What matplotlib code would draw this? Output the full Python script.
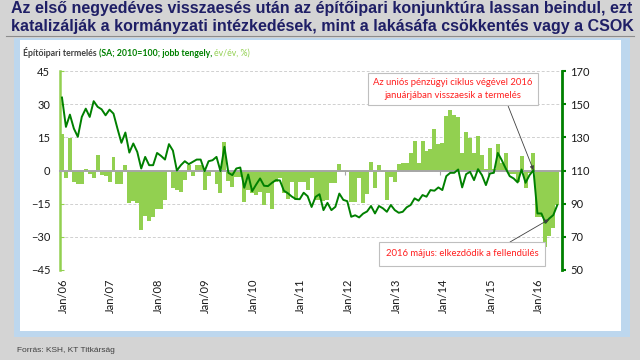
import numpy as np
import pandas as pd
import matplotlib
matplotlib.use("Agg")
import matplotlib.pyplot as plt
import matplotlib.patches as mpatches
from matplotlib.lines import Line2D
from matplotlib.text import Annotation

# ── Data ──────────────────────────────────────────────────────────────────────
months = pd.date_range("2006-01", periods=126, freq="MS")

# év/év, % (left axis, bars)
yoy = [
    16.3, -3.2, 14.9, -5.4, -5.9, -6.3, 0.5, -1.8, -3.6, 6.9, -2.1, -2.7,
    -5.1, 5.9, -6.2, -6.2, 2.7, -14.9, -13.9, -14.6, -26.7, -20.5, -22.9, -20.9,
    -17.5, -17.5, -13.4, -0.4, -8.1, -8.9, -9.6, -4.4, 2.4, -2.6, 2.7, 2.7,
    -9.0, -2.6, -0.3, -6.2, -10.1, 12.8, -4.8, -7.4, -3.0, -3.0, -14.2, -8.9,
    -10.4, -11.1, -9.6, -15.4, -10.4, -17.5, -5.1, -3.3, -10.4, -12.7, -5.1, -13.4,
    -5.1, -5.1, -8.9, -3.5, -13.5, -13.5, -14.0, -13.4, -5.5, -5.5, 3.0, -0.8,
    -0.8, -14.2, -14.2, -3.3, -14.5, -10.8, 3.8, -7.8, 2.3, -0.9, -13.4, -2.9,
    -5.1, 2.9, 3.2, 3.2, 8.1, 13.4, 3.2, 13.4, 8.7, 9.5, 18.7, 12.2,
    12.5, 24.5, 27.5, 25.0, 24.0, 7.7, 17.2, 14.8, 7.7, 15.7, 6.9, 0.6,
    10.4, 0.5, 11.9, 3.2, 7.7, -1.7, -1.7, -5.1, 6.5, -8.1, -1.0, 8.1,
    -21.2, -21.2, -34.5, -29.5, -26.2, -15.7,
]

# SA, 2010=100 (right axis, line)
index_sa = [
    154.0, 136.3, 143.7, 135.3, 130.3, 142.3, 147.3, 142.3, 151.8, 148.4, 146.9, 143.3,
    146.7, 144.3, 135.3, 126.7, 132.9, 120.8, 126.3, 121.2, 111.2, 118.2, 113.2, 113.2,
    120.6, 118.8, 116.6, 125.9, 122.0, 110.0, 113.2, 115.6, 113.8, 115.2, 116.6, 116.6,
    109.6, 115.6, 116.2, 118.2, 109.6, 124.3, 108.6, 107.2, 111.2, 111.8, 99.6, 107.6,
    97.5, 101.5, 105.2, 100.8, 100.6, 102.6, 104.2, 104.0, 97.8, 96.3, 94.3, 92.8,
    92.7, 96.6, 94.5, 88.0, 94.1, 95.7, 86.1, 90.5, 86.1, 88.1, 96.1, 92.3,
    91.5, 82.1, 83.0, 81.7, 84.0, 85.3, 88.6, 84.1, 88.6, 87.2, 85.1, 89.2,
    86.1, 84.5, 85.1, 87.8, 89.2, 93.2, 91.8, 95.2, 94.2, 98.2, 97.8, 99.8,
    98.2, 106.6, 108.6, 108.6, 110.6, 99.8, 107.8, 109.2, 104.2, 110.8, 107.2, 101.2,
    108.2, 108.6, 120.6, 116.2, 111.2, 106.6, 105.2, 102.8, 110.6, 102.6, 107.2, 110.2,
    84.1, 84.1, 78.5, 81.1, 83.1, 89.1,
]

left_ticks = [-45, -30, -15, 0, 15, 30, 45]
right_ticks = [50, 70, 90, 110, 130, 150, 170]

TITLE = ("Az első negyedéves visszaesés után az építőipari konjunktúra lassan beindul, ezt\n"
         "katalizálják a kormányzati intézkedések, mint a lakásáfa csökkentés vagy a CSOK")
NOTE_JAN = "Az uniós pénzügyi ciklus végével 2016\njanuárjában visszaesik a termelés"
NOTE_MAY = "2016 május: elkezdődik a fellendülés"

# ── Colours ───────────────────────────────────────────────────────────────────
BG = "#D4D4D4"
NAVY = "#1F1F66"
LIGHT_GREEN = "#92D050"
DARK_GREEN = "#008000"
PANEL_EDGE = "#BDD7EE"
GRID = "#D0D0D0"
ZERO = "#A6A6A6"
TEXT = "#1A1A1A"
RED = "#FF2020"
CAL = ["Lato", "DejaVu Sans"]

W, H = 640, 360
fig = plt.figure(figsize=(6.4, 3.6), dpi=100, facecolor=BG)

def fx(px):
    return px / W

def fy(py):
    return 1 - py / H

# ── Panel ─────────────────────────────────────────────────────────────────────
fig.patches.append(mpatches.Rectangle((fx(14), fy(337)), fx(630) - fx(14), fy(38) - fy(337),
                                      transform=fig.transFigure, fc=PANEL_EDGE, ec="none", zorder=-2))
fig.patches.append(mpatches.Rectangle((fx(20), fy(331)), fx(621) - fx(20), fy(40) - fy(331),
                                      transform=fig.transFigure, fc="white", ec="none", zorder=-1))

fig.text(fx(11), fy(1), TITLE, ha="left", va="top", fontsize=11.5, fontweight="bold",
         color=NAVY, family="Liberation Sans", linespacing=1.28)
fig.add_artist(Line2D([fx(6), fx(634)], [fy(36), fy(36)], color="#8C8C8C", lw=0.8))

# subtitle with mixed colours, pieces chained one after another
prev = fig.text(fx(23), fy(53), "Építőipari termelés ", ha="left", va="center", fontsize=6.3,
                fontweight="bold", color="#404040", family=CAL)
for s, c, w in [("(SA; 2010=100; jobb tengely, ", DARK_GREEN, "bold"),
                ("év/év, %)", LIGHT_GREEN, "normal")]:
    prev = fig.add_artist(Annotation(s, xy=(1, 0.5), xycoords=prev, ha="left", va="center",
                                     fontsize=6.3, color=c, fontweight=w, family=CAL))

fig.text(fx(17), fy(350), "Forrás: KSH, KT Titkárság", ha="left", va="center", fontsize=6,
         color="#404040", family="Liberation Sans")

# ── Axes ──────────────────────────────────────────────────────────────────────
ax = fig.add_axes([fx(60), fy(270), fx(562) - fx(60), fy(71) - fy(270)])
ax.set_facecolor("none")
x = np.arange(len(months))
ax.bar(x, yoy, width=1.0, color=LIGHT_GREEN, linewidth=0, zorder=2)
ax.set_xlim(-0.5, len(months) + 0.2)
ax.set_ylim(-45, 45)
ax.set_yticks(left_ticks)
ax.yaxis.grid(True, color=GRID, linestyle=(0, (3, 2)), linewidth=0.7, zorder=0)
ax.set_axisbelow(True)
for s in ["top", "right"]:
    ax.spines[s].set_visible(False)
ax.spines["left"].set_color(LIGHT_GREEN)
ax.spines["left"].set_linewidth(1.8)
ax.spines["bottom"].set_position(("data", 0))
ax.spines["bottom"].set_color(ZERO)
ax.spines["bottom"].set_linewidth(1.4)
ax.spines["bottom"].set_zorder(3)
ax.tick_params(axis="y", direction="in", length=3, color=LIGHT_GREEN, labelsize=8,
               labelcolor=TEXT, pad=7)
for lab in ax.get_yticklabels():
    lab.set_family(CAL)

jan_idx = [i for i, m in enumerate(months) if m.month == 1]
jan_pos = [i - 0.5 for i in jan_idx]
jan_labels = [f"Jan/{months[i]:%y}" for i in jan_idx]
ax.set_xticks(jan_pos)
ax.tick_params(axis="x", direction="out", length=3, color=ZERO, labelbottom=False)

sec = ax.secondary_xaxis("bottom")
sec.set_xticks([p + 0.8 for p in jan_pos], jan_labels)
sec.spines["bottom"].set_visible(False)
sec.tick_params(axis="x", length=0, pad=6, labelsize=8, labelcolor=TEXT, rotation=90)
for lab in sec.get_xticklabels():
    lab.set_family(CAL)

ax2 = ax.twinx()
ax2.plot(x, index_sa, color=DARK_GREEN, lw=1.4, zorder=4)
ax2.set_ylim(50, 170)
ax2.set_yticks(right_ticks)
for s in ["top", "left", "bottom"]:
    ax2.spines[s].set_visible(False)
ax2.spines["right"].set_color(DARK_GREEN)
ax2.spines["right"].set_linewidth(2)
ax2.tick_params(axis="y", direction="out", length=3, width=1.5, color=DARK_GREEN,
                labelsize=8, labelcolor=TEXT, pad=3)
for lab in ax2.get_yticklabels():
    lab.set_family(CAL)

# ── Annotations ───────────────────────────────────────────────────────────────
box = dict(boxstyle="square,pad=0.6", fc="white", ec="#BFBFBF", lw=0.8)
ax2.annotate(NOTE_JAN, xy=(119, index_sa[119]), xytext=(fx(453), fy(89)),
             textcoords="figure fraction", ha="center", va="center", fontsize=6.8,
             color=RED, family=CAL, linespacing=1.45, bbox=box, zorder=6,
             arrowprops=dict(arrowstyle="-|>", color="#404040", lw=0.6, mutation_scale=6,
                             relpos=(0.83, 0), shrinkA=0, shrinkB=0))
ax2.annotate(NOTE_MAY, xy=(122.9, 80.5), xytext=(fx(462), fy(254)),
             textcoords="figure fraction", ha="center", va="center", fontsize=6.8,
             color=RED, family=CAL, bbox=dict(box, boxstyle="square,pad=0.75"), zorder=6,
             arrowprops=dict(arrowstyle="-|>", color="#404040", lw=0.6, mutation_scale=6,
                             relpos=(0.73, 1), shrinkA=0, shrinkB=0))

fig.savefig("out.png", dpi=100, facecolor=BG)
